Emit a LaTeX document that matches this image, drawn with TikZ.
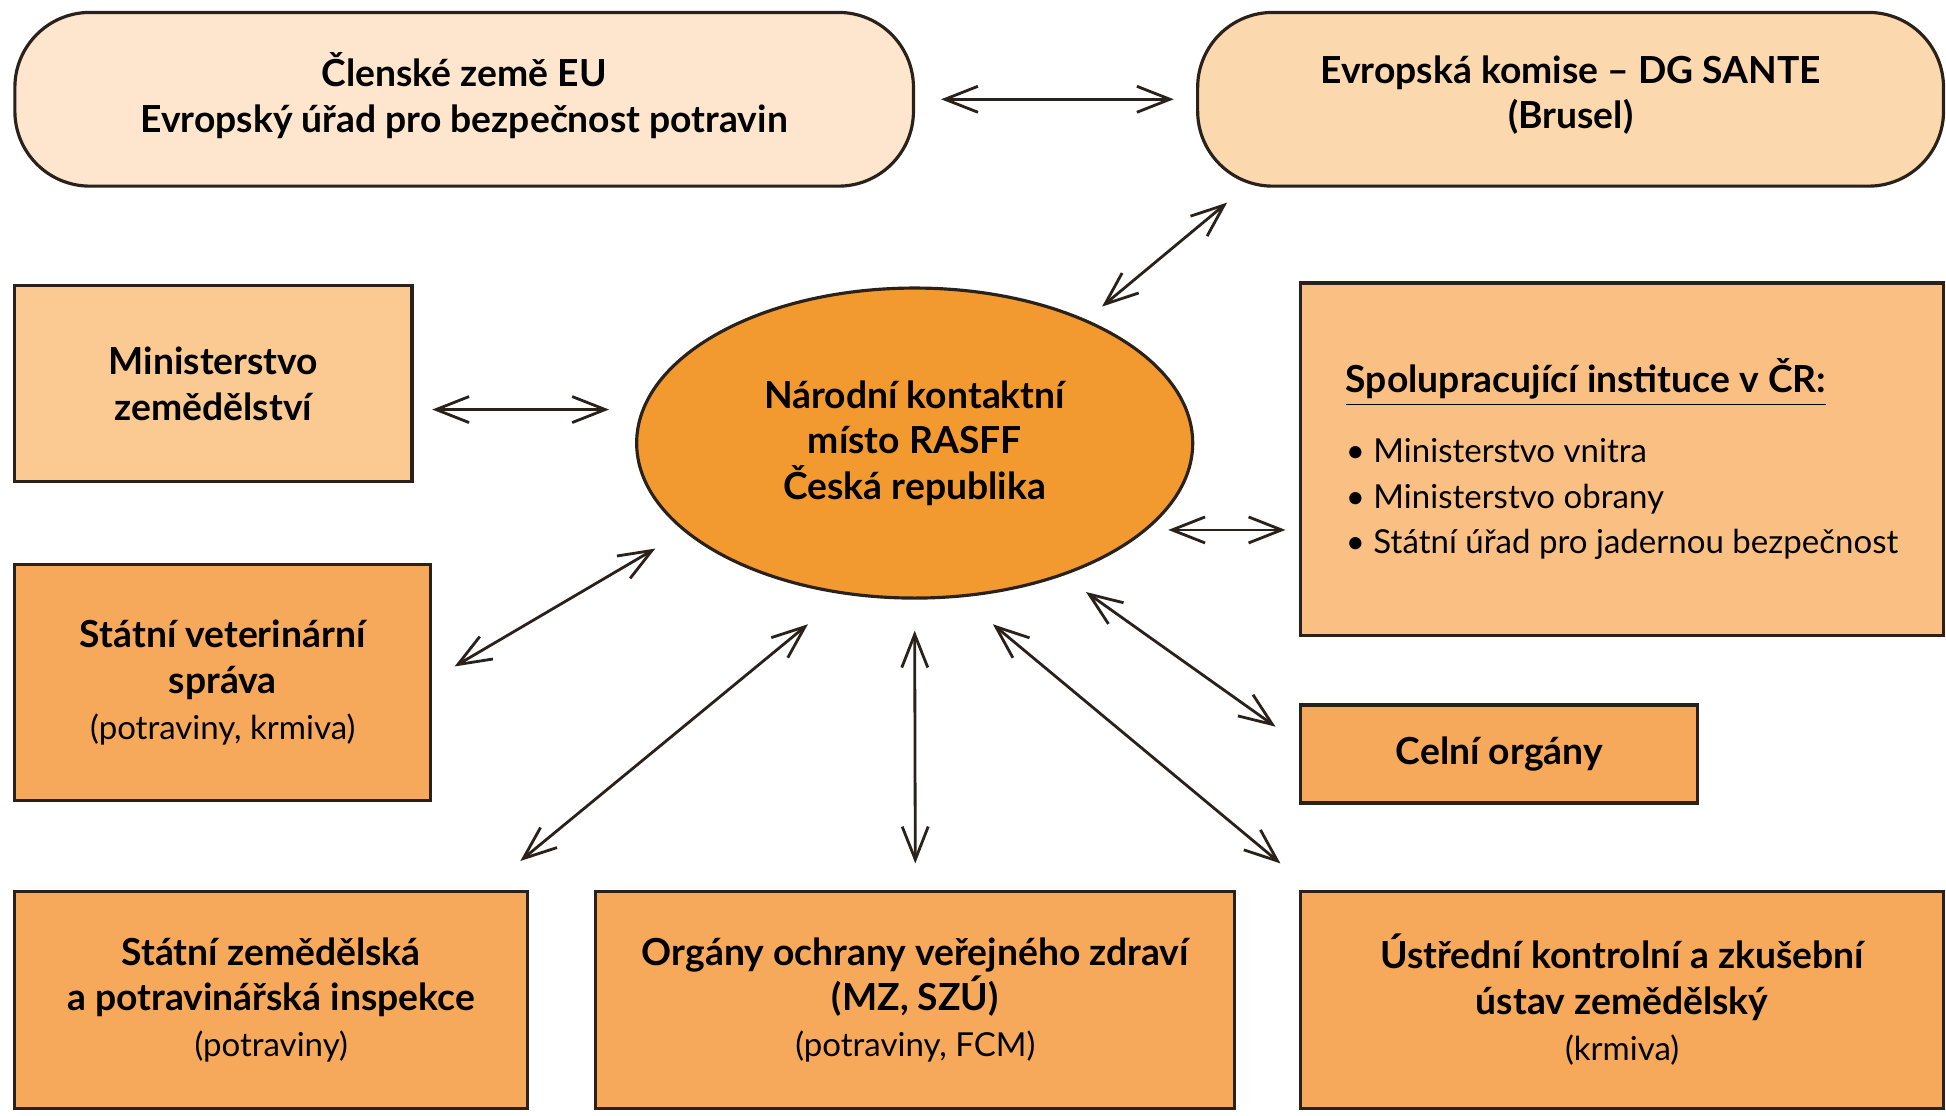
\documentclass[tikz,border=0pt]{standalone}
\usepackage{fontspec}
\setmainfont{Lato}
\usepackage{tikz}
\usetikzlibrary{arrows.meta,calc,shapes.geometric}

\definecolor{edge}{HTML}{2A211B}
\definecolor{peachA}{HTML}{FDE6CD}
\definecolor{peachB}{HTML}{FCD8AF}
\definecolor{orangeA}{HTML}{FBCA93}
\definecolor{orangeB}{HTML}{FAC083}
\definecolor{orangeC}{HTML}{F6A95A}
\definecolor{core}{HTML}{F29A2F}

\newcommand{\plain}[1]{{\fontsize{9.4}{13}\selectfont\mdseries #1}}

\tikzset{
  box/.style={draw=edge, line width=0.9pt, align=center, inner sep=0pt,
              font=\fontsize{10.6}{13}\selectfont\bfseries},
  roundbox/.style={box, rounded corners=7.5mm},
  link/.style={line width=0.8pt, draw=edge,
               {Straight Barb[length=3.3mm,width=2.6mm]}-{Straight Barb[length=3.3mm,width=2.6mm]}},
}

\begin{document}
\begin{tikzpicture}[x=0.1241mm, y=-0.1241mm]
        \useasboundingbox (0,0) rectangle (1568,899);
        % top row
        \node [roundbox, fill=peachA, minimum width=89.85mm, minimum height=17.37mm] (eu) at (374,80)
              {Členské země EU\\Evropský úřad pro bezpečnost potravin\\[-9pt]};    %EU
        \node [roundbox, fill=peachB, minimum width=74.58mm, minimum height=17.37mm] (ek) at (1265.5,80)
              {Evropská komise -- DG SANTE\\(Brusel)\\[-9pt]};                      %DG SANTE
        % middle
        \node [box, fill=orangeA, minimum width=39.71mm, minimum height=19.61mm] (mze) at (172,309)
              {Ministerstvo\\zemědělství};                                       %MZe
        \node [box, ellipse, fill=core, minimum width=55.6mm, minimum height=31mm] (nkm) at (737,357)
              {Národní kontaktní\\místo RASFF\\Česká republika};                 %NKM
        \node [box, fill=orangeB, minimum width=64.28mm, minimum height=35.24mm, align=left] (spolu) at (1307,370)
              {\underline{Spolupracující instituce v ČR:}\\[2.4mm]
               \plain{\textbullet\ Ministerstvo vnitra}\\
               \plain{\textbullet\ Ministerstvo obrany}\\
               \plain{\textbullet\ Státní úřad pro jadernou bezpečnost}};       %spolupracujici
        \node [box, fill=orangeC, minimum width=41.57mm, minimum height=23.58mm] (svs) at (179.5,550)
              {Státní veterinární\\správa\\\plain{(potraviny, krmiva)}};         %SVS
        \node [box, fill=orangeC, minimum width=39.71mm, minimum height=9.8mm] (celni) at (1208,607.5)
              {Celní orgány};                                                    %CS
        % bottom row
        \node [box, fill=orangeC, minimum width=51.25mm, minimum height=21.72mm] (szpi) at (218.5,805.5)
              {Státní zemědělská\\a potravinářská inspekce\\\plain{(potraviny)}};          %SZPI
        \node [box, fill=orangeC, minimum width=63.91mm, minimum height=21.72mm] (oovz) at (737.5,805.5)
              {Orgány ochrany veřejného zdraví\\(MZ, SZÚ)\\\plain{(potraviny, FCM)}};     %OOVZ
        \node [box, fill=orangeC, minimum width=64.28mm, minimum height=21.72mm] (ukzuz) at (1307,805.5)
              {Ústřední kontrolní a zkušební\\ústav zemědělský\\\plain{(krmiva)}};         %UKZUZ

        % arrows
        \draw [link] ($(eu.east)+(21,0)$)            -- ($(ek.west)+(-18,0)$);          %
        \draw [link] ($(ek.south west)+(25,12)$)     -- ($(nkm.center)+(151,-110)$);    %
        \draw [link] ($(mze.east)+(15,21)$)          -- ($(nkm.west)+(-21,-27)$);       %
        \draw [link] ($(nkm.east)+(-21,70)$)         -- ($(spolu.west)+(-11,57)$);      %
        \draw [link] ($(svs.east)+(18,-13)$)         -- ($(nkm.center)+(-209,85)$);     %
        \draw [link] ($(szpi.north east)+(-7,-23)$)  -- ($(nkm.center)+(-86,146)$);     %
        \draw [link] ($(oovz.north)+(0,-21)$)        -- ($(nkm.south)+(0,25)$);         %
        \draw [link] ($(ukzuz.north west)+(-15,-21)$) -- ($(nkm.center)+(63,146)$);     %
        \draw [link] ($(celni.west)+(-19,-22)$)      -- ($(nkm.center)+(138,120)$);     %
\end{tikzpicture}
\end{document}
